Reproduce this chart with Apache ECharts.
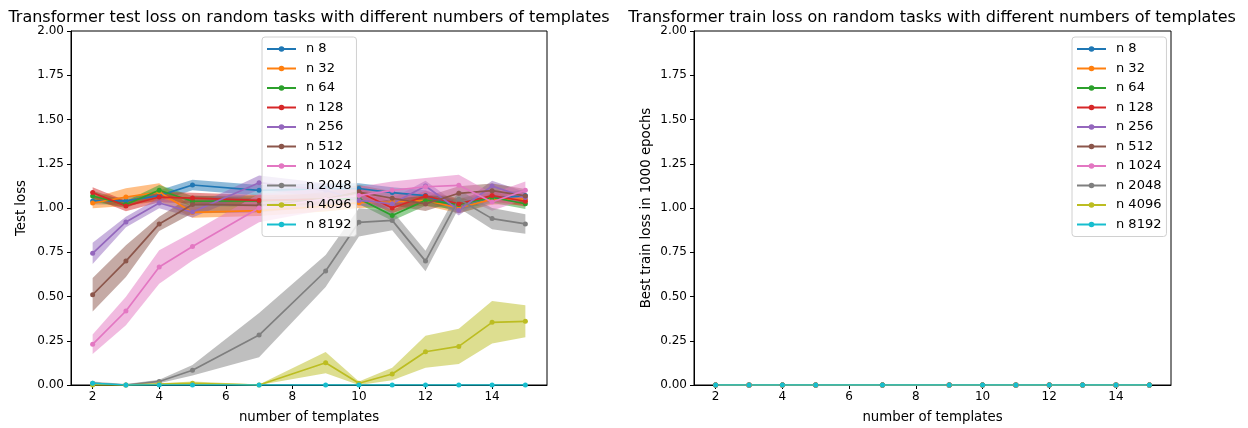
<!DOCTYPE html>
<html><head><meta charset="utf-8">
<script src="https://cdn.jsdelivr.net/npm/echarts@6/dist/echarts.min.js"></script>
<style>html,body{margin:0;padding:0;background:#fff}#c{width:1248px;height:428px}</style>
</head><body><div id="c"></div>
<script>
// ---- data ----
const templates = [2, 3, 4, 5, 7, 9, 10, 11, 12, 13, 14, 15];
const seriesNames = ['n 8', 'n 32', 'n 64', 'n 128', 'n 256', 'n 512', 'n 1024', 'n 2048', 'n 4096', 'n 8192'];

const testN8    = [1.04, 1.04, 1.07, 1.13, 1.10, 1.11, 1.11, 1.087, 1.07, 1.00, 1.056, 1.07];
const testN32   = [1.028, 1.062, 1.09, 0.975, 0.985, 1.01, 1.03, 1.034, 1.043, 1.00, 1.05, 1.05];
const testN64   = [1.068, 1.02, 1.10, 1.038, 1.04, 1.05, 1.053, 0.958, 1.043, 1.02, 1.06, 1.024];
const testN128  = [1.087, 1.011, 1.062, 1.056, 1.043, 1.05, 1.09, 1.00, 1.068, 1.024, 1.07, 1.038];
const testN256  = [0.744, 0.921, 1.028, 0.977, 1.143, 1.10, 1.043, 1.024, 1.124, 0.987, 1.124, 1.06];
const testN512  = [0.51, 0.70, 0.91, 1.02, 1.015, 1.05, 1.09, 1.055, 1.023, 1.083, 1.098, 1.068];
const testN1024 = [0.23, 0.418, 0.667, 0.783, 1.00, 1.05, 1.07, 1.10, 1.12, 1.128, 1.034, 1.10];
const testN2048 = [0.01, 0.0, 0.02, 0.083, 0.282, 0.644, 0.919, 0.93, 0.70, 1.05, 0.94, 0.91];
const testN4096 = [0.0, 0.0, 0.005, 0.01, 0.0, 0.126, 0.01, 0.062, 0.188, 0.218, 0.354, 0.36];
const testN8192 = [0.01, 0.0, 0.0, 0.0, 0.0, 0.0, 0.0, 0.0, 0.0, 0.0, 0.0, 0.0];

const sdN8    = [0.02, 0.02, 0.03, 0.03, 0.03, 0.03, 0.03, 0.03, 0.03, 0.03, 0.03, 0.03];
const sdN32   = [0.03, 0.05, 0.05, 0.03, 0.03, 0.03, 0.03, 0.03, 0.03, 0.03, 0.03, 0.03];
const sdN64   = [0.03, 0.02, 0.03, 0.03, 0.03, 0.03, 0.03, 0.03, 0.03, 0.03, 0.03, 0.03];
const sdN128  = [0.03, 0.03, 0.03, 0.03, 0.03, 0.03, 0.03, 0.03, 0.03, 0.03, 0.03, 0.03];
const sdN256  = [0.06, 0.03, 0.03, 0.03, 0.04, 0.04, 0.03, 0.03, 0.03, 0.03, 0.03, 0.03];
const sdN512  = [0.095, 0.09, 0.04, 0.05, 0.04, 0.04, 0.04, 0.04, 0.04, 0.04, 0.04, 0.04];
const sdN1024 = [0.055, 0.08, 0.095, 0.08, 0.08, 0.06, 0.05, 0.05, 0.05, 0.06, 0.05, 0.05];
const sdN2048 = [0.01, 0.005, 0.01, 0.03, 0.125, 0.09, 0.08, 0.055, 0.058, 0.05, 0.06, 0.055];
const sdN4096 = [0.005, 0.003, 0.005, 0.01, 0.003, 0.06, 0.01, 0.035, 0.09, 0.10, 0.12, 0.09];
const sdN8192 = [0.005, 0.0, 0.0, 0.0, 0.0, 0.0, 0.0, 0.0, 0.0, 0.0, 0.0, 0.0];

const trainLoss = [0, 0, 0, 0, 0, 0, 0, 0, 0, 0, 0, 0];

const xTickValues = [2, 4, 6, 8, 10, 12, 14];

const testMeans = [testN8, testN32, testN64, testN128, testN256, testN512, testN1024, testN2048, testN4096, testN8192];
const testSds = [sdN8, sdN32, sdN64, sdN128, sdN256, sdN512, sdN1024, sdN2048, sdN4096, sdN8192];

// ---- styles ----
const colors = ['#1f77b4', '#ff7f0e', '#2ca02c', '#d62728', '#9467bd', '#8c564b', '#e377c2', '#7f7f7f', '#bcbd22', '#17becf'];
const FONT = 'DejaVu Sans';
const FS_TICK = 12;
const FS_YNAME = 13.3;
const FS_XNAME = 13.3;
const FS_LEG = 13;
const FS_TITLE = 16;

function rgba(hex, a) {
  const r = parseInt(hex.slice(1, 3), 16), g = parseInt(hex.slice(3, 5), 16), b = parseInt(hex.slice(5, 7), 16);
  return 'rgba(' + r + ',' + g + ',' + b + ',' + a + ')';
}

function lineSeries(name, data, color, ai) {
  return {
    name: name, type: 'line', xAxisIndex: ai, yAxisIndex: ai,
    data: templates.map((x, i) => [x, data[i]]),
    symbol: 'circle', symbolSize: 5, showSymbol: true,
    lineStyle: { color: color, width: 1.7 },
    itemStyle: { color: color },
    emphasis: { disabled: true }, animation: false
  };
}

function bandSeries(mean, sd, color) {
  const data = templates.map((x, i) => [x, Math.max(0, mean[i] - sd[i]), mean[i] + sd[i]]);
  return {
    type: 'custom', xAxisIndex: 0, yAxisIndex: 0, silent: true, animation: false,
    data: data, encode: { x: 0, y: [1, 2] },
    renderItem: function (params, api) {
      if (params.dataIndex !== 0) return null;
      const top = data.map(d => api.coord([d[0], d[2]]));
      const bot = data.map(d => api.coord([d[0], d[1]])).reverse();
      return { type: 'polygon', shape: { points: top.concat(bot) }, style: { fill: rgba(color, 0.5), stroke: null } };
    }
  };
}

const series = [];
seriesNames.forEach((n, i) => {
  series.push(lineSeries(n, testMeans[i], colors[i], 0));
  series.push(bandSeries(testMeans[i], testSds[i], colors[i]));
});
seriesNames.forEach((n, i) => {
  series.push(lineSeries(n, trainLoss, colors[i], 1));
});

function xAxis(gi, name) {
  return {
    type: 'value', gridIndex: gi, min: 1.35, max: 15.65,
    name: name, nameLocation: 'middle', nameGap: 26,
    nameTextStyle: { fontFamily: FONT, fontSize: FS_XNAME, color: '#000' },
    axisLine: { show: true, onZero: false, lineStyle: { color: '#000', width: 1 } },
    axisTick: { show: true, length: 4, customValues: xTickValues, lineStyle: { color: '#000' } },
    axisLabel: { customValues: xTickValues, fontFamily: FONT, fontSize: FS_TICK, color: '#000', margin: 6 },
    splitLine: { show: false }
  };
}
function yAxis(gi, name, gap) {
  return {
    type: 'value', gridIndex: gi, min: 0, max: 2, interval: 0.25,
    name: name, nameLocation: 'middle', nameGap: gap, nameRotate: 90,
    nameTextStyle: { fontFamily: FONT, fontSize: FS_YNAME, color: '#000' },
    axisLine: { show: true, onZero: false, lineStyle: { color: '#000', width: 1 } },
    axisTick: { show: true, length: 4, lineStyle: { color: '#000' } },
    axisLabel: { formatter: v => v.toFixed(2), fontFamily: FONT, fontSize: FS_TICK, color: '#000', margin: 7 },
    splitLine: { show: false }
  };
}
function legend(left) {
  return {
    data: seriesNames, orient: 'vertical', left: left, top: 37,
    itemWidth: 29, itemHeight: 7, itemGap: 5.5,
    padding: [5, 5, 5, 4],
    backgroundColor: 'rgba(255,255,255,0.8)', borderColor: '#d0d0d0', borderWidth: 1, borderRadius: 3,
    textStyle: { fontFamily: FONT, fontSize: FS_LEG, color: '#000', lineHeight: 14, padding: [0, 0, 0, 5] },
    selectedMode: false
  };
}

const chart = echarts.init(document.getElementById('c'), null, { renderer: 'canvas' });
chart.setOption({
  backgroundColor: '#fff',
  animation: false,
  textStyle: { fontFamily: FONT },
  grid: [
    { left: 71, top: 31, width: 476, height: 354, show: true, borderColor: '#000', borderWidth: 1, backgroundColor: 'transparent', outerBoundsMode: 'none' },
    { left: 694, top: 31, width: 477, height: 354, show: true, borderColor: '#000', borderWidth: 1, backgroundColor: 'transparent', outerBoundsMode: 'none' }
  ],
  xAxis: [xAxis(0, 'number of templates'), xAxis(1, 'number of templates')],
  yAxis: [yAxis(0, 'Test loss', 43), yAxis(1, 'Best train loss in 1000 epochs', 41)],
  legend: [legend(262), legend(1072)],
  graphic: [
    { type: 'text', x: 309, y: 18, style: { text: 'Transformer test loss on random tasks with different numbers of templates', fontFamily: FONT, fontSize: FS_TITLE, fill: '#000', align: 'center', verticalAlign: 'middle' } },
    { type: 'text', x: 932, y: 18, style: { text: 'Transformer train loss on random tasks with different numbers of templates', fontFamily: FONT, fontSize: FS_TITLE, fill: '#000', align: 'center', verticalAlign: 'middle' } }
  ],
  series: series
});
</script>
</body></html>
